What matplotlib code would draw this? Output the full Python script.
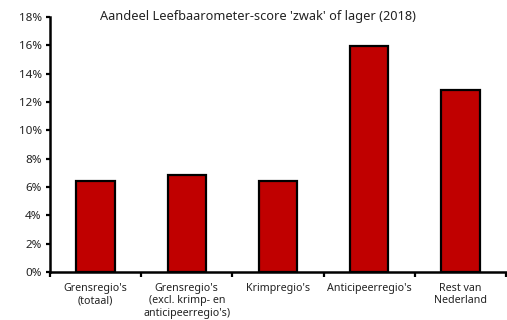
import matplotlib
matplotlib.use("Agg")
import matplotlib.pyplot as plt
from matplotlib.ticker import FixedLocator, PercentFormatter

# Share of 'zwak' or lower Leefbaarometer scores, 2018
categories = [
    "Grensregio's\n(totaal)",
    "Grensregio's\n(excl. krimp- en\nanticipeerregio's)",
    "Krimpregio's",
    "Anticipeerregio's",
    "Rest van\nNederland",
]
share_pct = [6.4, 6.85, 6.45, 15.95, 12.85]
y_ticks = [0, 2, 4, 6, 8, 10, 12, 14, 16, 18]

RED = "#c00000"
TEXT = "#222222"

plt.rcParams["font.family"] = ["Noto Sans", "DejaVu Sans"]

fig = plt.figure(figsize=(5.07, 3.2), dpi=100)
ax = fig.add_axes([50 / 507, 48 / 320, 456 / 507, 255 / 320])

x = range(len(categories))
ax.bar(x, share_pct, width=0.42, color=RED, edgecolor="black",
       linewidth=1.6, zorder=2)

ax.set_xlim(-0.5, len(categories) - 0.5)
ax.set_ylim(0, 18)
ax.set_yticks(y_ticks)
ax.yaxis.set_major_formatter(PercentFormatter(decimals=0))

ax.set_xticks(list(x))
ax.set_xticklabels(categories, fontsize=7.7, color=TEXT, linespacing=1.15)
ax.xaxis.set_minor_locator(FixedLocator([i + 0.5 for i in range(-1, len(categories))]))
ax.tick_params(axis="x", which="major", length=0, pad=8)
ax.tick_params(axis="x", which="minor", length=3.5, width=1.6, direction="out")
ax.tick_params(axis="y", length=3, width=1.6, direction="out",
               labelsize=8.4, labelcolor=TEXT, pad=3)

for side in ("top", "right"):
    ax.spines[side].set_visible(False)
for side in ("left", "bottom"):
    ax.spines[side].set_linewidth(1.8)

fig.text(0.508, 0.947, "Aandeel Leefbaarometer-score 'zwak' of lager (2018)",
         ha="center", va="center", fontsize=9.2, color=TEXT)

fig.savefig("out.png", dpi=100, facecolor="white")
